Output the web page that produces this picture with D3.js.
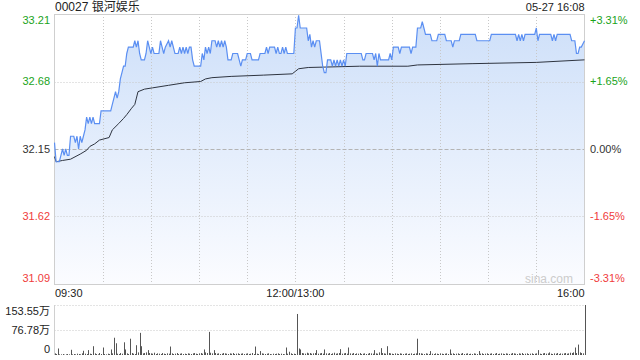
<!DOCTYPE html>
<html>
<head>
<meta charset="utf-8">
<script src="https://cdn.jsdelivr.net/npm/d3@7"></script>
<style>
  html, body { margin: 0; padding: 0; background: #fff; }
  svg text { font-family: "Liberation Sans", Arial, "Noto Sans CJK SC", sans-serif; }
</style>
</head>
<body>
<div id="chart"></div>
<script>
const title = "00027 银河娱乐";
const stamp = "05-27 16:08";
const prevClose = 32.15;
const priceTicks = [33.21, 32.68, 32.15, 31.62, 31.09];
const pctTicks = ["+3.31%", "+1.65%", "0.00%", "-1.65%", "-3.31%"];
const timeLabels = ["09:30", "12:00/13:00", "16:00"];
const volTicks = [153.55, 76.78, 0];
const volTickLabels = ["153.55万", "76.78万", "0"];

// [minute from 09:30 (lunch removed), price]
const pricePoints = [
  [0,32.20],[1,32.05],[3,32.05],[4,32.10],[5,32.15],[6,32.10],[7,32.15],[8,32.10],[9,32.10],
  [10,32.25],[12,32.25],[13,32.20],[14,32.25],[15,32.15],[16,32.25],[17,32.20],[18,32.25],[19,32.30],
  [20,32.40],[21,32.35],[22,32.40],[23,32.35],[24,32.40],[25,32.35],[28,32.35],[29,32.45],[35,32.45],
  [36,32.50],[37,32.55],[38,32.60],[39,32.55],[40,32.60],[41,32.70],[42,32.75],[43,32.80],[44,32.80],
  [45,32.90],[46,32.95],[49,32.95],[50,33.00],[51,32.95],[52,33.00],[53,32.90],[54,32.85],[56,32.85],
  [57,32.90],[58,33.00],[59,32.95],[60,32.90],[61,32.95],[62,32.90],[65,32.90],[66,33.00],[67,32.95],
  [68,32.90],[69,32.95],[71,33.00],[72,32.95],[73,33.00],[74,32.95],[75,32.90],[77,32.90],[78,32.95],
  [79,32.90],[80,32.95],[81,32.90],[82,32.95],[83,32.90],[84,32.95],[85,32.95],[86,32.85],[87,32.80],
  [91,32.80],[92,32.90],[93,32.85],[94,32.95],[95,32.90],[96,32.95],[97,32.90],[98,33.00],[100,33.00],
  [101,32.95],[102,33.00],[103,32.95],[104,33.00],[105,32.95],[106,33.00],[107,32.95],[108,32.85],
  [110,32.85],[111,32.90],[114,32.90],[115,32.85],[116,32.80],[117,32.85],[119,32.85],[120,32.90],
  [122,32.90],[123,32.85],[127,32.85],[128,32.90],[131,32.90],[132,32.95],[133,32.90],[134,32.95],
  [137,32.95],[138,32.90],[139,32.95],[140,32.90],[141,32.90],[142,32.95],[143,32.90],[144,32.95],
  [145,32.90],[149,32.90],[150,33.10],[151,33.10],[152,33.20],[153,33.10],[157,33.10],[158,33.00],
  [159,33.05],[160,32.95],[161,33.00],[162,32.95],[163,33.00],[165,33.00],[166,32.90],[167,32.80],
  [168,32.75],[169,32.75],[170,32.85],[172,32.85],[173,32.80],[174,32.85],[175,32.80],[176,32.85],
  [177,32.80],[178,32.85],[179,32.80],[180,32.85],[181,32.80],[182,32.90],[191,32.90],[192,32.85],
  [193,32.85],[194,32.90],[198,32.90],[199,32.85],[200,32.90],[201,32.80],[202,32.90],[203,32.85],
  [208,32.85],[209,32.90],[210,32.85],[211,32.95],[214,32.95],[215,32.90],[216,32.95],[221,32.95],
  [222,32.90],[223,32.95],[225,32.95],[226,33.10],[228,33.10],[229,33.15],[230,33.10],[231,33.05],
  [234,33.05],[235,33.00],[238,33.00],[239,33.05],[243,33.05],[244,33.00],[247,33.00],[248,32.95],
  [249,33.00],[252,33.00],[253,33.05],[262,33.05],[263,33.00],[271,33.00],[272,33.05],[287,33.05],
  [288,33.00],[289,33.05],[290,33.00],[291,33.05],[292,33.00],[293,33.05],[299,33.05],[300,33.10],
  [301,33.00],[302,33.05],[309,33.05],[310,33.00],[311,33.05],[312,33.00],[313,33.05],[321,33.05],
  [322,33.00],[324,33.00],[325,32.90],[326,32.90],[327,32.95],[328,32.95],[330,33.00]
];

// [minute, average price]
const avgPoints = [
  [0,32.09],[1,32.05],[5,32.06],[10,32.07],[16,32.11],[20,32.14],[22,32.17],[25,32.19],[28,32.22],
  [34,32.24],[36,32.30],[40,32.35],[43,32.39],[45,32.42],[48,32.47],[50,32.50],[51,32.55],[52,32.60],
  [56,32.62],[61,32.63],[71,32.65],[81,32.67],[91,32.68],[94,32.70],[98,32.71],[110,32.72],[130,32.73],
  [148,32.74],[150,32.76],[152,32.78],[158,32.79],[190,32.80],[220,32.80],[226,32.81],[260,32.82],
  [300,32.83],[330,32.85]
];

// volume per minute, 万股
const volumes = [
  5,3,20,2,2,3,1,2,3,2, 16,2,3,2,4,3,2,5,13,4, 3,15,4,3,27,5,3,2,6,3,
  23,3,2,4,3,17,5,53,36,4, 3,6,4,39,17,5,3,50,6,4, 3,30,8,68,27,5,6,8,15,6,
  5,4,7,3,5,4,3,6,4,3, 5,4,26,5,3,4,6,3,4,5, 3,4,3,5,4,3,5,6,4,3,
  5,6,4,17,8,6,71,7,5,15, 6,4,5,3,4,6,5,4,3,5, 4,6,3,4,5,3,4,5,3,4,
  5,3,4,6,3,26,4,3,12,5, 4,3,4,5,3,2,4,3,4,5, 3,4,3,2,23,4,10,5,3,4,
  3,126,20,17,6,5,4,7,5,6, 4,5,6,15,4,5,6,4,17,5, 4,6,3,5,7,4,5,6,18,4,
  5,6,4,23,5,4,6,3,5,4, 6,3,4,5,3,4,6,5,4,15, 5,4,8,21,6,5,4,27,6,5,
  4,3,5,4,3,5,4,3,4,5, 3,4,5,3,4,5,50,6,5,4, 3,5,4,3,12,4,3,5,4,3,
  5,4,3,4,5,3,17,4,5,3, 4,5,3,4,6,3,4,5,3,4, 3,5,4,3,12,4,5,3,4,5,
  3,4,5,3,4,6,3,4,5,4, 3,5,4,3,4,6,5,4,3,5, 4,6,3,4,5,3,4,5,3,4,
  5,15,4,3,5,6,4,5,8,4, 3,5,4,6,3,5,4,5,6,4, 5,7,6,8,23,6,32,8,6,5,
  153.55
];

const W = 640, H = 360;
const plotLeft = 54.5, plotRight = 584.5, plotTop = 14, plotBottom = 284;
const volTop = 305, volBottom = 355;
const green = "#1aa31a", red = "#f03c3c", dark = "#333";

const svg = d3.select("#chart").append("svg")
  .attr("width", W).attr("height", H)
  .attr("viewBox", `0 0 ${W} ${H}`);

const x = d3.scaleLinear().domain([0, 330]).range([plotLeft, plotRight]);
const y = d3.scaleLinear().domain([31.09, 33.21]).range([plotBottom, plotTop]);
const yv = d3.scaleLinear().domain([0, 153.55]).range([volBottom, volTop]);

// gradient fill
const defs = svg.append("defs");
const grad = defs.append("linearGradient")
  .attr("id", "fillGrad")
  .attr("gradientUnits", "userSpaceOnUse")
  .attr("x1", 0).attr("x2", 0).attr("y1", plotTop).attr("y2", plotBottom);
grad.append("stop").attr("offset", "0%").attr("stop-color", "#cddff9");
grad.append("stop").attr("offset", "100%").attr("stop-color", "#fbfcff");

const area = d3.area()
  .x(d => x(d[0]))
  .y0(plotBottom)
  .y1(d => y(d[1]));

svg.append("path")
  .datum(pricePoints)
  .attr("d", area)
  .attr("fill", "url(#fillGrad)");

// grid
const vTicks = d3.range(30, 330, 30);
svg.append("g").selectAll("line")
  .data(vTicks).enter().append("line")
  .attr("x1", d => Math.round(x(d)) + 0.5).attr("x2", d => Math.round(x(d)) + 0.5)
  .attr("y1", plotTop).attr("y2", plotBottom)
  .style("stroke", "#c8c8c8")
  .style("stroke-dasharray", "1,2");

svg.append("g").selectAll("line")
  .data(priceTicks.slice(1, 4)).enter().append("line")
  .attr("x1", plotLeft).attr("x2", plotRight)
  .attr("y1", d => Math.round(y(d)) + 0.5).attr("y2", d => Math.round(y(d)) + 0.5)
  .style("stroke", d => d === prevClose ? "#b4b4b4" : "#c8c8c8")
  .style("stroke-dasharray", d => d === prevClose ? "4,2" : "1,2");

// frame
svg.append("rect")
  .attr("x", plotLeft).attr("y", plotTop + 0.5)
  .attr("width", plotRight - plotLeft).attr("height", plotBottom - plotTop)
  .attr("fill", "none")
  .style("stroke", "#cfcfcf");

// avg line
const line = d3.line().x(d => x(d[0])).y(d => y(d[1]));
svg.append("path")
  .datum(avgPoints)
  .attr("d", line)
  .attr("fill", "none")
  .style("stroke", "#2e3440")
  .style("stroke-width", 1);

// price line
svg.append("path")
  .datum(pricePoints)
  .attr("d", line)
  .attr("fill", "none")
  .style("stroke", "#5b8ff2")
  .style("stroke-width", 1.2);

// axis labels
const colorFor = i => i < 2 ? green : (i === 2 ? dark : red);
const labelY = (v, i) => {
  const py = y(v);
  if (i === 0) return py + 6;
  if (i === priceTicks.length - 1) return py - 6;
  return py;
};

svg.append("g").selectAll("text")
  .data(priceTicks).enter().append("text")
  .attr("x", 50)
  .attr("y", (d, i) => labelY(d, i))
  .attr("dy", "0.36em")
  .attr("text-anchor", "end")
  .attr("font-size", 11)
  .attr("fill", (d, i) => colorFor(i))
  .text(d => d.toFixed(2));

svg.append("g").selectAll("text")
  .data(pctTicks).enter().append("text")
  .attr("x", 590)
  .attr("y", (d, i) => labelY(priceTicks[i], i))
  .attr("dy", "0.36em")
  .attr("text-anchor", "start")
  .attr("font-size", 11)
  .attr("fill", (d, i) => colorFor(i))
  .text(d => d);

// title & time stamp
svg.append("text")
  .attr("x", 55).attr("y", 11)
  .attr("font-size", 12).attr("fill", "#222")
  .text(title);
svg.append("text")
  .attr("x", plotRight).attr("y", 11)
  .attr("text-anchor", "end")
  .attr("font-size", 11).attr("fill", "#222")
  .text(stamp);

// watermark
svg.append("text")
  .attr("x", 573).attr("y", 283)
  .attr("text-anchor", "end")
  .attr("font-size", 12).attr("fill", "#cccccc")
  .text("sina.com");

// time labels
const tPos = [0, 150, 330];
const tAnchor = ["start", "middle", "end"];
svg.append("g").selectAll("text")
  .data(timeLabels).enter().append("text")
  .attr("x", (d, i) => i === 0 ? plotLeft + 0.5 : (i === 2 ? plotRight : x(tPos[i])))
  .attr("y", 297)
  .attr("text-anchor", (d, i) => tAnchor[i])
  .attr("font-size", 11).attr("fill", "#222")
  .text(d => d);

// volume panel
svg.append("g").selectAll("line")
  .data(volTicks.slice(0, 2)).enter().append("line")
  .attr("x1", plotLeft).attr("x2", plotRight)
  .attr("y1", d => Math.round(yv(d)) + 0.5).attr("y2", d => Math.round(yv(d)) + 0.5)
  .style("stroke", "#c8c8c8")
  .style("stroke-dasharray", "1,2");

svg.append("line")
  .attr("x1", plotLeft).attr("x2", plotLeft)
  .attr("y1", volTop).attr("y2", volBottom)
  .style("stroke", "#d0d0d0");

svg.append("g").selectAll("line")
  .data(volumes).enter().append("line")
  .attr("x1", (d, i) => Math.round(x(i)) + 0.5)
  .attr("x2", (d, i) => Math.round(x(i)) + 0.5)
  .attr("y1", volBottom)
  .attr("y2", d => yv(d))
  .style("stroke", "#555")
  .style("stroke-width", 1);

svg.append("g").selectAll("text")
  .data(volTickLabels).enter().append("text")
  .attr("x", 50)
  .attr("y", (d, i) => i === 0 ? yv(volTicks[i]) + 6 : (i === 2 ? yv(volTicks[i]) - 6 : yv(volTicks[i])))
  .attr("dy", "0.36em")
  .attr("text-anchor", "end")
  .attr("font-size", 11).attr("fill", "#222")
  .text(d => d);
</script>
</body>
</html>
